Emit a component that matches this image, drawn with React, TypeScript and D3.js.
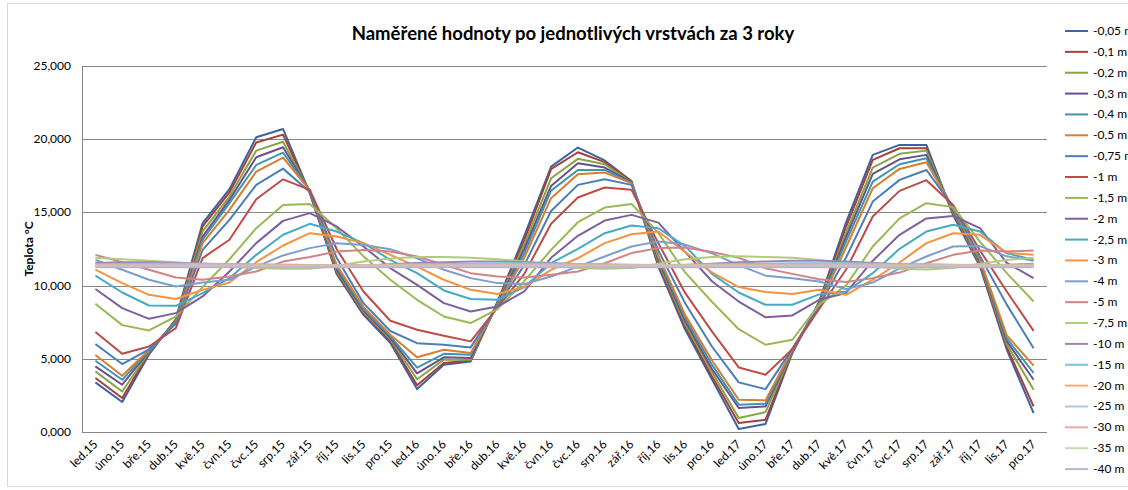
import React from "react";
import * as d3 from "d3";

const months = ["led.15","úno.15","bře.15","dub.15","kvě.15","čvn.15","čvc.15","srp.15","zář.15","říj.15","lis.15","pro.15","led.16","úno.16","bře.16","dub.16","kvě.16","čvn.16","čvc.16","srp.16","zář.16","říj.16","lis.16","pro.16","led.17","úno.17","bře.17","dub.17","kvě.17","čvn.17","čvc.17","srp.17","zář.17","říj.17","lis.17","pro.17"];

const seriesNames = ["-0,05 m","-0,1 m","-0,2 m","-0,3 m","-0,4 m","-0,5 m","-0,75 m","-1 m","-1,5 m","-2 m","-2,5 m","-3 m","-4 m","-5 m","-7,5 m","-10 m","-15 m","-20 m","-25 m","-30 m","-35 m","-40 m"];

const seriesColors = ["#3B64A0","#A53F3C","#86A545","#6A4F8E","#3C96B0","#DA7D2F","#4A7EBB","#BE4B48","#98B954","#7D60A0","#46AAC5","#F69240","#7C9DD0","#D08483","#B1CC7F","#9C86B9","#7EC3D9","#F9AB6B","#B0C3E2","#E2AAA9","#C8DBAA","#BDB2D3"];

const d005 = [3.39,2.05,5.30,7.70,14.27,16.59,20.13,20.70,16.30,10.80,8.00,6.10,2.94,4.59,4.82,8.90,13.40,18.13,19.43,18.55,17.15,11.30,7.00,3.60,0.20,0.55,5.40,8.90,14.30,18.93,19.61,19.61,14.80,11.30,5.62,1.29];
const d01 = [3.69,2.32,5.40,7.65,14.04,16.36,19.77,20.31,16.35,10.90,8.10,6.25,3.20,4.71,4.88,8.85,13.10,17.95,19.11,18.43,17.10,11.45,7.20,3.80,0.61,0.84,5.45,8.85,14.00,18.59,19.38,19.38,14.90,11.40,5.80,1.75];
const d02 = [4.14,2.77,5.45,7.60,13.70,16.08,19.22,19.83,16.40,11.00,8.20,6.35,3.60,4.94,4.94,8.80,12.80,17.33,18.66,18.29,17.05,11.60,7.40,4.10,0.95,1.36,5.50,8.80,13.60,18.06,19.00,19.22,15.00,11.50,6.00,2.89];
const d03 = [4.48,3.23,5.50,7.55,13.35,15.85,18.77,19.45,16.45,11.10,8.30,6.45,4.00,5.10,5.05,8.75,12.50,16.81,18.36,18.06,17.05,11.75,7.60,4.30,1.64,1.75,5.55,8.75,13.30,17.63,18.63,18.93,15.10,11.60,6.20,3.57];
const d04 = [4.87,3.57,5.55,7.50,13.13,15.63,18.24,19.08,16.50,11.25,8.40,6.55,4.40,5.34,5.28,8.70,12.20,16.49,17.90,17.90,17.00,11.90,7.80,4.60,1.86,1.93,5.60,8.70,13.00,17.10,18.29,18.70,15.20,11.70,6.40,4.03];
const d05 = [5.26,3.84,5.60,7.45,12.90,15.17,17.79,18.74,16.50,11.40,8.55,6.65,5.10,5.62,5.39,8.65,11.90,15.97,17.61,17.72,17.00,12.05,8.00,4.90,2.20,2.16,5.65,8.65,12.60,16.65,17.97,18.43,15.30,11.80,6.60,4.53];
const d075 = [6.01,4.64,5.65,7.40,12.44,14.49,16.88,17.99,16.40,11.90,8.80,6.90,6.07,5.96,5.78,8.60,11.40,15.10,16.88,17.27,16.88,12.40,8.80,5.84,3.39,2.93,5.70,8.60,11.90,15.74,17.22,17.90,15.40,12.00,8.70,5.72];
const d1 = [6.83,5.34,5.84,7.10,11.88,13.13,15.90,17.26,16.54,12.50,9.60,7.60,6.98,6.57,6.19,8.50,10.80,14.22,16.02,16.70,16.54,12.90,9.50,6.87,4.41,3.91,5.66,8.40,11.08,14.72,16.47,17.20,15.50,12.40,9.60,6.91];
const d15 = [8.76,7.30,6.94,7.89,9.90,11.80,13.92,15.51,15.58,13.92,12.00,10.40,9.03,7.89,7.44,8.40,10.30,12.44,14.33,15.33,15.58,13.60,10.90,8.90,7.02,5.96,6.30,8.70,10.00,12.67,14.59,15.63,15.36,13.00,10.85,8.91];
const d2 = [9.77,8.46,7.73,8.12,9.26,10.96,12.90,14.42,14.95,14.04,12.67,11.19,10.05,8.80,8.23,8.57,9.60,11.90,13.40,14.44,14.83,14.30,12.30,10.30,8.91,7.83,7.96,9.03,9.50,11.70,13.47,14.59,14.76,13.92,11.55,10.51];
const d25 = [10.68,9.53,8.64,8.62,9.49,10.51,12.10,13.47,14.22,13.69,12.90,11.76,10.85,9.67,9.08,9.03,9.90,11.53,12.51,13.58,14.10,13.92,12.70,10.80,9.53,8.69,8.69,9.40,9.60,10.85,12.51,13.69,14.15,13.69,12.20,11.76];
const d3v = [11.09,10.17,9.37,9.08,9.71,10.21,11.60,12.74,13.58,13.35,12.90,12.10,11.30,10.40,9.71,9.42,9.90,11.08,11.87,12.90,13.51,13.70,12.30,10.90,9.90,9.56,9.42,9.71,9.37,10.40,11.58,12.90,13.58,13.47,12.24,12.10];
const d4 = [11.75,11.08,10.40,9.94,10.21,10.40,11.30,12.06,12.56,12.90,12.78,12.49,11.87,11.08,10.51,10.17,10.10,10.62,11.30,11.99,12.67,13.02,12.80,12.20,11.40,10.68,10.51,10.28,9.76,10.21,11.18,11.99,12.67,12.70,12.00,11.70];
const d5 = [12.10,11.60,11.08,10.55,10.40,10.62,10.96,11.64,11.95,12.33,12.44,12.33,11.99,11.42,10.85,10.62,10.55,10.74,10.96,11.53,12.22,12.56,12.60,12.30,11.90,11.19,10.80,10.44,10.24,10.51,10.89,11.53,12.10,12.40,12.33,12.40];
const d75 = [11.90,11.80,11.70,11.60,11.45,11.30,11.20,11.15,11.15,11.35,11.65,11.85,11.95,11.95,11.90,11.80,11.65,11.40,11.20,11.15,11.20,11.50,11.80,11.95,12.00,11.95,11.90,11.75,11.55,11.30,11.15,11.10,11.20,11.50,11.75,11.90];
const d10 = [11.55,11.60,11.60,11.55,11.50,11.45,11.40,11.35,11.30,11.30,11.35,11.45,11.55,11.60,11.65,11.65,11.60,11.55,11.45,11.40,11.35,11.35,11.40,11.50,11.60,11.65,11.70,11.70,11.65,11.55,11.45,11.40,11.35,11.35,11.40,11.50];
const d15m = [11.45,11.48,11.50,11.50,11.50,11.48,11.45,11.42,11.40,11.38,11.40,11.42,11.45,11.48,11.50,11.52,11.52,11.50,11.48,11.45,11.42,11.40,11.42,11.45,11.48,11.50,11.52,11.52,11.52,11.50,11.48,11.45,11.42,11.40,11.42,11.45];
const d20 = [11.42,11.43,11.44,11.45,11.45,11.44,11.43,11.42,11.41,11.40,11.40,11.41,11.42,11.43,11.44,11.45,11.45,11.44,11.43,11.42,11.41,11.40,11.40,11.41,11.42,11.43,11.44,11.45,11.45,11.44,11.43,11.42,11.41,11.40,11.40,11.41];
const d25m = [11.38,11.38,11.39,11.39,11.39,11.39,11.38,11.38,11.38,11.37,11.37,11.37,11.38,11.38,11.39,11.39,11.39,11.39,11.38,11.38,11.38,11.37,11.37,11.37,11.38,11.38,11.39,11.39,11.39,11.39,11.38,11.38,11.38,11.37,11.37,11.37];
const d30 = [11.34,11.34,11.34,11.35,11.35,11.35,11.35,11.34,11.34,11.34,11.34,11.34,11.34,11.34,11.34,11.35,11.35,11.35,11.35,11.34,11.34,11.34,11.34,11.34,11.34,11.34,11.34,11.35,11.35,11.35,11.35,11.34,11.34,11.34,11.34,11.34];
const d35 = [11.30,11.30,11.30,11.30,11.30,11.30,11.30,11.30,11.30,11.30,11.30,11.30,11.30,11.30,11.30,11.30,11.30,11.30,11.30,11.30,11.30,11.30,11.30,11.30,11.30,11.30,11.30,11.30,11.30,11.30,11.30,11.30,11.30,11.30,11.30,11.30];
const d40 = [11.26,11.26,11.26,11.26,11.26,11.26,11.26,11.26,11.26,11.26,11.26,11.26,11.26,11.26,11.26,11.26,11.26,11.26,11.26,11.26,11.26,11.26,11.26,11.26,11.26,11.26,11.26,11.26,11.26,11.26,11.26,11.26,11.26,11.26,11.26,11.26];

const seriesValues = [d005,d01,d02,d03,d04,d05,d075,d1,d15,d2,d25,d3v,d4,d5,d75,d10,d15m,d20,d25m,d30,d35,d40];

const yTicks = [0,5,10,15,20,25];
const title = "Naměřené hodnoty po jednotlivých vrstvách za 3 roky";
const yTitle = "Teplota °C";

const W = 1128, H = 490;
const plot = { left: 82, right: 1047, top: 66, bottom: 432 };
const FONT = "Lato, 'Open Sans', 'Liberation Sans', sans-serif";

const czLocale = d3.formatLocale({ decimal: ",", thousands: " ", grouping: [3], currency: ["", " Kč"] });
const fmt = czLocale.format(".3f");

export default function App() {
  const x = d3.scaleBand<string>().domain(months).range([plot.left, plot.right]);
  const y = d3.scaleLinear().domain([0, 25]).range([plot.bottom, plot.top]);
  const line = d3.line<number>()
    .x((_, i) => (x(months[i]) as number) + x.bandwidth() / 2)
    .y((v) => y(v));

  return (
    <svg width={W} height={H} style={{ position: "absolute", left: 0, top: 0, background: "#fff" }} fontFamily={FONT}>
      <rect x={7.5} y={3.5} width={1130} height={483} fill="#fff" stroke="#D9D9D9" strokeWidth={1} />
      <text x={573} y={40} textAnchor="middle" fontSize={18.5} fontWeight="bold" fill="#000">{title}</text>
      {yTicks.map((t) => (
        <g key={t}>
          <line x1={plot.left} x2={plot.right} y1={Math.round(y(t)) + 0.5} y2={Math.round(y(t)) + 0.5} stroke="#868686" strokeWidth={1} />
          <text x={71} y={y(t) + 4} textAnchor="end" fontSize={12} fill="#000">{fmt(t)}</text>
        </g>
      ))}
      <line x1={plot.left + 0.5} x2={plot.left + 0.5} y1={plot.top} y2={plot.bottom} stroke="#868686" strokeWidth={1} />
      <text transform={`translate(33,${(plot.top + plot.bottom) / 2}) rotate(-90)`} textAnchor="middle" fontSize={12} fontWeight="bold" fill="#000">{yTitle}</text>
      {months.map((m) => {
        const cx = (x(m) as number) + x.bandwidth() / 2;
        return (
          <text key={m} transform={`translate(${cx + 3},${plot.bottom + 13}) rotate(-45)`} textAnchor="end" fontSize={12} fill="#000">{m}</text>
        );
      })}
      {seriesValues.map((vals, si) => (
        <path key={si} d={line(vals) || ""} fill="none" stroke={seriesColors[si]} strokeWidth={2} strokeLinejoin="round" />
      ))}
      {seriesNames.map((n, i) => {
        const ly = 31 + i * 20.86;
        return (
          <g key={n}>
            <line x1={1065} x2={1088} y1={ly} y2={ly} stroke={seriesColors[i]} strokeWidth={2} />
            <text x={1093} y={ly + 4} fontSize={12} fill="#000">{n}</text>
          </g>
        );
      })}
    </svg>
  );
}
